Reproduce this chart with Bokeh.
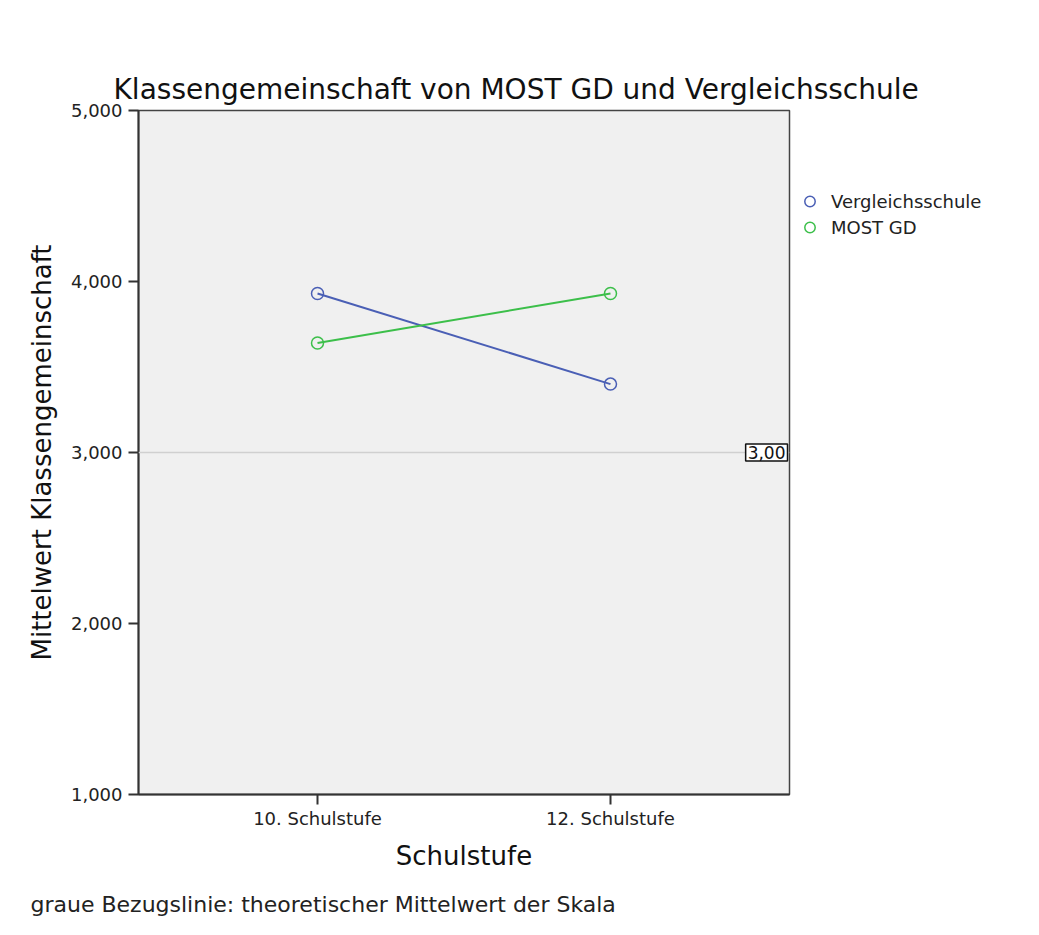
from bokeh.plotting import figure
from bokeh.models import Range1d, FixedTicker, Span, Label, Legend, LegendItem, Title
from bokeh.embed import file_html
from bokeh.resources import INLINE

categories = ["10. Schulstufe", "12. Schulstufe"]
vergleichsschule = [3.93, 3.40]
most_gd = [3.64, 3.93]
y_ticks = [1, 2, 3, 4, 5]
y_tick_labels = ["1,000", "2,000", "3,000", "4,000", "5,000"]
reference_value = 3.0
reference_label = "3,00"

BLUE = "#4a5fb5"
GREEN = "#3cbf4a"
FONT = "DejaVu Sans"

xs = list(range(len(categories)))
x_start, x_end = -0.611, 1.611

p = figure(frame_width=651, frame_height=684, output_backend="svg", toolbar_location=None,
           x_range=Range1d(x_start, x_end), y_range=Range1d(1, 5),
           min_border_left=138, min_border_right=250, min_border_top=110, min_border_bottom=141)

p.title.text = "Klassengemeinschaft von MOST GD und Vergleichsschule"
p.title.text_font = FONT
p.title.text_font_size = "28px"
p.title.text_font_style = "normal"
p.title.text_color = "#111111"
p.title.align = "left"
p.title.offset = -25

p.background_fill_color = "#f0f0f0"
p.border_fill_color = "white"
p.outline_line_color = "#444444"
p.outline_line_width = 1.5
p.grid.visible = False

p.xaxis.ticker = FixedTicker(ticks=xs)
p.xaxis.major_label_overrides = {i: c for i, c in zip(xs, categories)}
p.yaxis.ticker = FixedTicker(ticks=y_ticks)
p.yaxis.major_label_overrides = {t: l for t, l in zip(y_ticks, y_tick_labels)}
for ax in (p.xaxis, p.yaxis):
    ax.axis_line_color = "#333333"
    ax.axis_line_width = 2
    ax.major_tick_line_color = "#333333"
    ax.major_tick_line_width = 2
    ax.major_tick_out = 10
    ax.major_tick_in = 0
    ax.minor_tick_line_color = None
    ax.major_label_text_font = FONT
    ax.major_label_text_font_size = "18px"
    ax.major_label_text_color = "#222222"
    ax.axis_label_text_font = FONT
    ax.axis_label_text_font_size = "26px"
    ax.axis_label_text_font_style = "normal"
    ax.axis_label_text_color = "#111111"
p.xaxis.axis_label = "Schulstufe"
p.yaxis.axis_label = "Mittelwert Klassengemeinschaft"
p.xaxis.major_label_standoff = 3
p.yaxis.major_label_standoff = 6
p.xaxis.axis_label_standoff = 9
p.yaxis.axis_label_standoff = 11

ref = Span(location=reference_value, dimension="width", line_color="#d0d0d0", line_width=1.5)
p.add_layout(ref)
p.add_layout(Label(x=x_end, y=reference_value, text=reference_label, text_align="right",
                   text_baseline="middle", text_font=FONT, text_font_size="17px",
                   text_color="#111111", background_fill_color="white",
                   border_line_color="#111111", border_line_width=1.5, x_offset=-2,
                   padding=2))

p.line(xs, vergleichsschule, line_color=BLUE, line_width=2)
p.line(xs, most_gd, line_color=GREEN, line_width=2)
r1 = p.scatter(xs, vergleichsschule, marker="circle", size=12, fill_color=None,
               line_color=BLUE, line_width=1.5)
r2 = p.scatter(xs, most_gd, marker="circle", size=12, fill_color=None,
               line_color=GREEN, line_width=1.5)

legend = Legend(items=[LegendItem(label="Vergleichsschule", renderers=[r1]),
                       LegendItem(label="MOST GD", renderers=[r2])],
                location="top_left", margin=2, padding=0, spacing=0,
                title=" ", title_text_font_size="10px", title_standoff=65,
                glyph_width=37, glyph_height=26, label_height=26, label_standoff=3,
                label_text_font=FONT, label_text_font_size="18px", label_text_color="#222222",
                border_line_color=None, background_fill_alpha=0)
p.add_layout(legend, "right")

foot = Title(text="graue Bezugslinie: theoretischer Mittelwert der Skala", align="left",
             text_font=FONT, text_font_size="22px", text_font_style="normal",
             text_color="#222222", offset=-108, standoff=33)
p.add_layout(foot, "below")

open("out.html", "w").write(file_html(p, INLINE))
